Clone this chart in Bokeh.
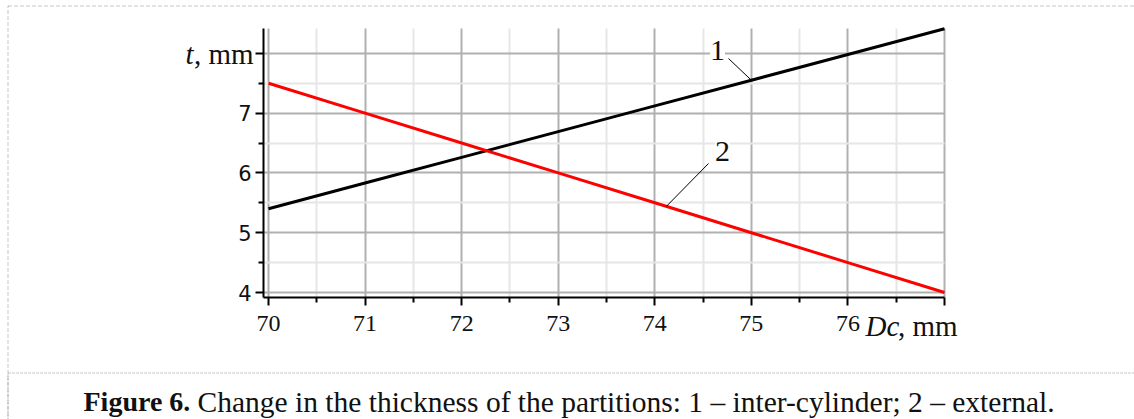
from bokeh.plotting import figure
from bokeh.models import Range1d, FixedTicker, Label, PolyAnnotation, BoxAnnotation
from bokeh.embed import file_html
from bokeh.resources import INLINE

# ---- data ----
D = [70, 71, 72, 73, 74, 75, 76, 77]
t_inter = [5.40, 5.83, 6.26, 6.69, 7.12, 7.55, 7.98, 8.41]   # curve 1
t_ext = [7.50, 7.00, 6.50, 6.00, 5.50, 5.00, 4.50, 4.00]     # curve 2
x_ticks = [70, 71, 72, 73, 74, 75, 76, 77]
x_tick_labels = ["70", "71", "72", "73", "74", "75", "76", ""]
y_ticks = [4, 5, 6, 7, 8]
y_tick_labels = ["4", "5", "6", "7", ""]
caption_bold = "Figure 6."
caption_text = "Change in the thickness of the partitions: 1 \u2013 inter-cylinder; 2 \u2013 external."

# ---- geometry (pixels of the page) ----
W, H = 1134, 419
PXX, X70 = 96.57, 268.0      # px per unit of D, pixel of D = 70
PXY, Y4 = 59.8, 292.0        # px per unit of t, pixel of t = 4
CH_L, CH_R, CH_T, CH_B = 263.0, 944.0, 28.0, 297.0   # chart area edges (px)


def dx(px):
    return 70 + (px - X70) / PXX


def dy(py):
    return 4 + (Y4 - py) / PXY


X0, X1 = dx(CH_L), dx(CH_R)
Y0, Y1 = dy(CH_B), dy(CH_T)

p = figure(width=W, height=H, output_backend="svg", toolbar_location=None,
           x_range=Range1d(dx(0), dx(W)), y_range=Range1d(dy(H), dy(0)),
           min_border=0, min_border_left=0, min_border_right=0,
           min_border_top=0, min_border_bottom=0)
p.outline_line_color = None
p.background_fill_color = "white"
p.border_fill_color = "white"

p.xaxis.ticker = FixedTicker(ticks=x_ticks, minor_ticks=[v + 0.5 for v in x_ticks[:-1]])
p.yaxis.ticker = FixedTicker(ticks=y_ticks, minor_ticks=[v + 0.5 for v in y_ticks[:-1]])
p.xaxis.major_label_overrides = {k: v for k, v in zip(x_ticks, x_tick_labels)}
p.yaxis.major_label_overrides = {k: v for k, v in zip(y_ticks, y_tick_labels)}
p.xaxis.fixed_location = Y0
p.yaxis.fixed_location = X0
p.xaxis.bounds = (X0, X1)
p.yaxis.bounds = (Y0, Y1)

for ax in (p.xaxis, p.yaxis):
    ax.axis_line_color = "black"
    ax.axis_line_width = 2
    ax.major_tick_line_color = "black"
    ax.major_tick_line_width = 2
    ax.minor_tick_line_color = "black"
    ax.minor_tick_line_width = 2
    ax.major_tick_in = 0
    ax.major_tick_out = 8
    ax.minor_tick_in = 0
    ax.minor_tick_out = 5
    ax.major_label_text_color = "#111111"

p.xaxis.major_label_text_font = "Liberation Serif"
p.xaxis.major_label_text_font_size = "24px"
p.xaxis.major_label_standoff = 10
p.yaxis.major_label_text_font = "DejaVu Sans"
p.yaxis.major_label_text_font_size = "21px"
p.yaxis.major_label_standoff = 4

for g in (p.xgrid, p.ygrid):
    g.grid_line_color = "#b0b0b0"
    g.grid_line_width = 2
    g.minor_grid_line_color = "#e6e6e6"
    g.minor_grid_line_width = 2

try:
    p.xgrid.cross_bounds = (Y0, Y1)
    p.ygrid.cross_bounds = (X0, X1)
except Exception:
    # hide grid outside the chart area with white boxes
    for kw in (dict(right=X0), dict(left=X1), dict(top=Y0), dict(bottom=Y1)):
        p.add_layout(BoxAnnotation(fill_color="white", fill_alpha=1, line_color=None,
                                   level="underlay", **kw))

# curves
p.line(D, t_inter, line_color="black", line_width=3)
p.line(D, t_ext, line_color="#ff0000", line_width=3)

# leader lines
p.segment(x0=[dx(728)], y0=[dy(58)], x1=[75.0], y1=[7.55], line_color="black", line_width=1)
p.segment(x0=[dx(708)], y0=[dy(163)], x1=[74.12], y1=[5.44], line_color="black", line_width=1)

serif = "Liberation Serif"


def lab(x, y, text, size="29px", style="normal", align="left", bg=None):
    l = Label(x=x, y=y, text=text, text_font=serif, text_font_size=size,
              text_font_style=style, text_align=align, text_baseline="middle",
              text_color="#111111")
    if bg:
        l.background_fill_color = bg
    p.add_layout(l)


# y positions below are the vertical middles of the texts
lab(dx(717), dy(50), "1", size="30px", align="center", bg="white")
lab(dx(722), dy(151), "2", size="30px", align="center", bg="white")
lab(dx(185), dy(53), "t", style="italic")
lab(dx(253), dy(53), ", mm", align="right")
lab(dx(865), dy(325), "Dc", style="italic")
lab(dx(957), dy(325), ", mm", align="right")
lab(dx(83), dy(401), caption_bold, size="28px", style="bold")
lab(dx(197), dy(401), caption_text, size="29.5px")

# dashed frame of the figure block and separator above the caption
p.add_layout(PolyAnnotation(xs=[dx(7.5), dx(1300), dx(1300), dx(7.5)],
                            ys=[dy(5.5), dy(5.5), dy(700), dy(700)],
                            fill_color=None, line_color="#444444", line_width=1,
                            line_dash="4 2"))
p.add_layout(PolyAnnotation(xs=[dx(7.5), dx(1300), dx(1300), dx(7.5)],
                            ys=[dy(372.5), dy(372.5), dy(700), dy(700)],
                            fill_color=None, line_color="#444444", line_width=1,
                            line_dash="3 1"))

open("out.html", "w").write(file_html(p, INLINE))
